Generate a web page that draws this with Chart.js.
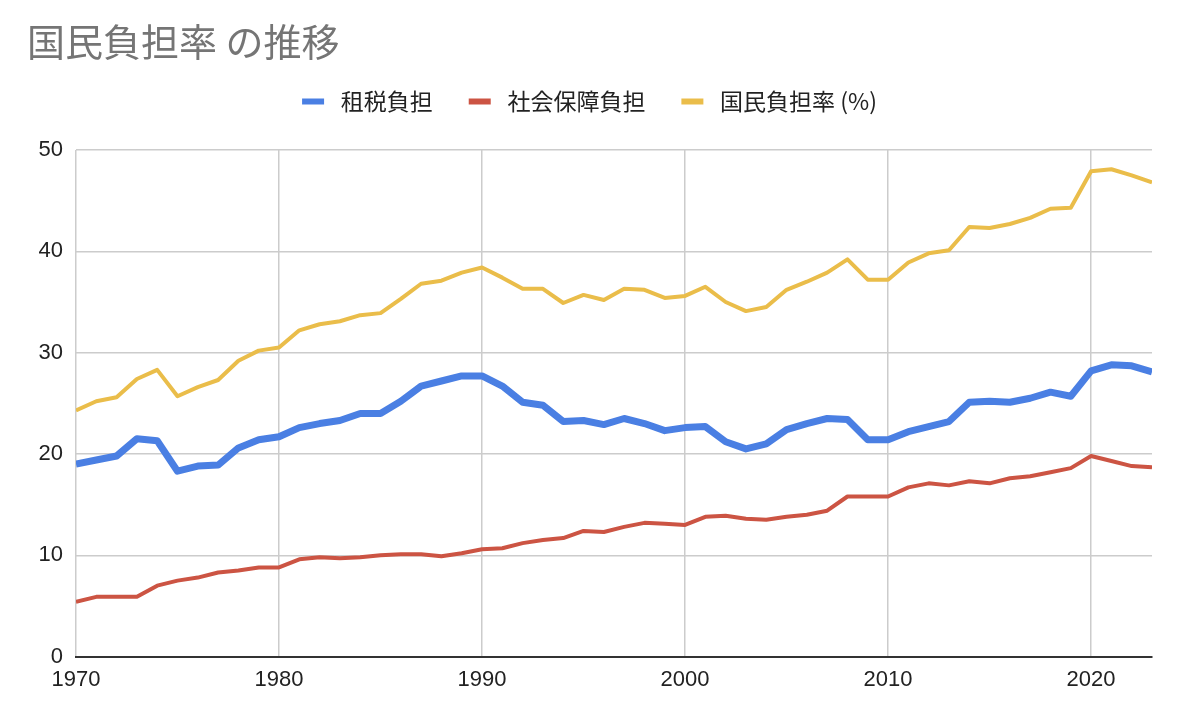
<!DOCTYPE html>
<html>
<head>
<meta charset="utf-8">
<script src="https://cdn.jsdelivr.net/npm/chart.js@4"></script>
<style>
  html, body { margin: 0; padding: 0; background: #ffffff; }
  #wrap { width: 1182px; height: 722px; position: relative; }
</style>
</head>
<body>
<div id="wrap"><canvas id="c"></canvas></div>
<script>
const years = [
  1970,1971,1972,1973,1974,1975,1976,1977,1978,1979,
  1980,1981,1982,1983,1984,1985,1986,1987,1988,1989,
  1990,1991,1992,1993,1994,1995,1996,1997,1998,1999,
  2000,2001,2002,2003,2004,2005,2006,2007,2008,2009,
  2010,2011,2012,2013,2014,2015,2016,2017,2018,2019,
  2020,2021,2022,2023
];
const taxBurden = [
  19.0,19.4,19.8,21.5,21.3,18.3,18.8,18.9,20.6,21.4,
  21.7,22.6,23.0,23.3,24.0,24.0,25.2,26.7,27.2,27.7,
  27.7,26.7,25.1,24.8,23.2,23.3,22.9,23.5,23.0,22.3,
  22.6,22.7,21.2,20.5,21.0,22.4,23.0,23.5,23.4,21.4,
  21.4,22.2,22.7,23.2,25.1,25.2,25.1,25.5,26.1,25.7,
  28.2,28.8,28.7,28.1
];
const socialBurden = [
  5.4,5.9,5.9,5.9,7.0,7.5,7.8,8.3,8.5,8.8,
  8.8,9.6,9.8,9.7,9.8,10.0,10.1,10.1,9.9,10.2,
  10.6,10.7,11.2,11.5,11.7,12.4,12.3,12.8,13.2,13.1,
  13.0,13.8,13.9,13.6,13.5,13.8,14.0,14.4,15.8,15.8,
  15.8,16.7,17.1,16.9,17.3,17.1,17.6,17.8,18.2,18.6,
  19.8,19.3,18.8,18.7
];
const nationalBurden = [
  24.3,25.2,25.6,27.4,28.3,25.7,26.6,27.3,29.2,30.2,
  30.5,32.2,32.8,33.1,33.7,33.9,35.3,36.8,37.1,37.9,
  38.4,37.4,36.3,36.3,34.9,35.7,35.2,36.3,36.2,35.4,
  35.6,36.5,35.0,34.1,34.5,36.2,37.0,37.9,39.2,37.2,
  37.2,38.9,39.8,40.1,42.4,42.3,42.7,43.3,44.2,44.3,
  47.9,48.1,47.5,46.8
];
const seriesNames = ['租税負担', '社会保障負担', '国民負担率 (%)'];
const titleText = '国民負担率 の推移';

const toPoints = arr => arr.map((v, i) => ({ x: years[i], y: v }));

const legendSpacer = {
  id: 'legendSpacer',
  beforeInit(chart) {
    const fit = chart.legend.fit;
    chart.legend.fit = function () { fit.call(this); this.height += 27; };
  }
};

const tickFont = { family: '"Liberation Sans", Arial, sans-serif', size: 22 };

new Chart(document.getElementById('c'), {
  type: 'line',
  data: {
    datasets: [
      { label: seriesNames[0], data: toPoints(taxBurden), borderColor: '#4a7fe3', backgroundColor: '#4a7fe3', borderWidth: 7 },
      { label: seriesNames[1], data: toPoints(socialBurden), borderColor: '#cc5443', backgroundColor: '#cc5443', borderWidth: 4 },
      { label: seriesNames[2], data: toPoints(nationalBurden), borderColor: '#eabd4a', backgroundColor: '#eabd4a', borderWidth: 4 }
    ]
  },
  options: {
    responsive: true,
    maintainAspectRatio: false,
    animation: false,
    devicePixelRatio: 1,
    layout: { padding: { left: 27, right: 30, top: 0, bottom: 19 } },
    elements: {
      point: { radius: 0, hoverRadius: 0 },
      line: { tension: 0, borderJoinStyle: 'round', borderCapStyle: 'butt' }
    },
    plugins: {
      tooltip: { enabled: false },
      title: {
        display: true,
        text: titleText,
        align: 'start',
        color: '#757575',
        font: { family: '"Noto Sans CJK JP", sans-serif', size: 38, weight: 'normal', lineHeight: 1 },
        padding: { top: 23, bottom: -7 }
      },
      legend: {
        display: true,
        position: 'top',
        align: 'center',
        labels: {
          color: '#222222',
          font: { family: '"Noto Sans CJK JP", sans-serif', size: 23 },
          boxWidth: 22,
          boxHeight: 6,
          padding: 36,
          generateLabels(chart) {
            const items = Chart.defaults.plugins.legend.labels.generateLabels(chart);
            items.forEach(it => { it.lineWidth = 0; it.fillStyle = it.strokeStyle; it.text = ' ' + it.text; });
            return items;
          }
        }
      }
    },
    scales: {
      x: {
        type: 'linear',
        min: 1970,
        max: 2023,
        grid: { color: '#cccccc', lineWidth: 1.5, drawTicks: false },
        border: { display: true, color: '#333333', width: 2 },
        ticks: {
          stepSize: 10,
          includeBounds: false,
          padding: 10,
          color: '#222222',
          font: tickFont,
          maxRotation: 0,
          callback: v => String(v)
        }
      },
      y: {
        type: 'linear',
        min: 0,
        max: 50,
        grid: { color: '#cccccc', lineWidth: 1.5, drawTicks: false },
        border: { display: false },
        ticks: { stepSize: 10, padding: 13, color: '#222222', font: tickFont },
        afterFit(scale) { scale.width = 49; }
      }
    }
  },
  plugins: [legendSpacer]
});
</script>
</body>
</html>
